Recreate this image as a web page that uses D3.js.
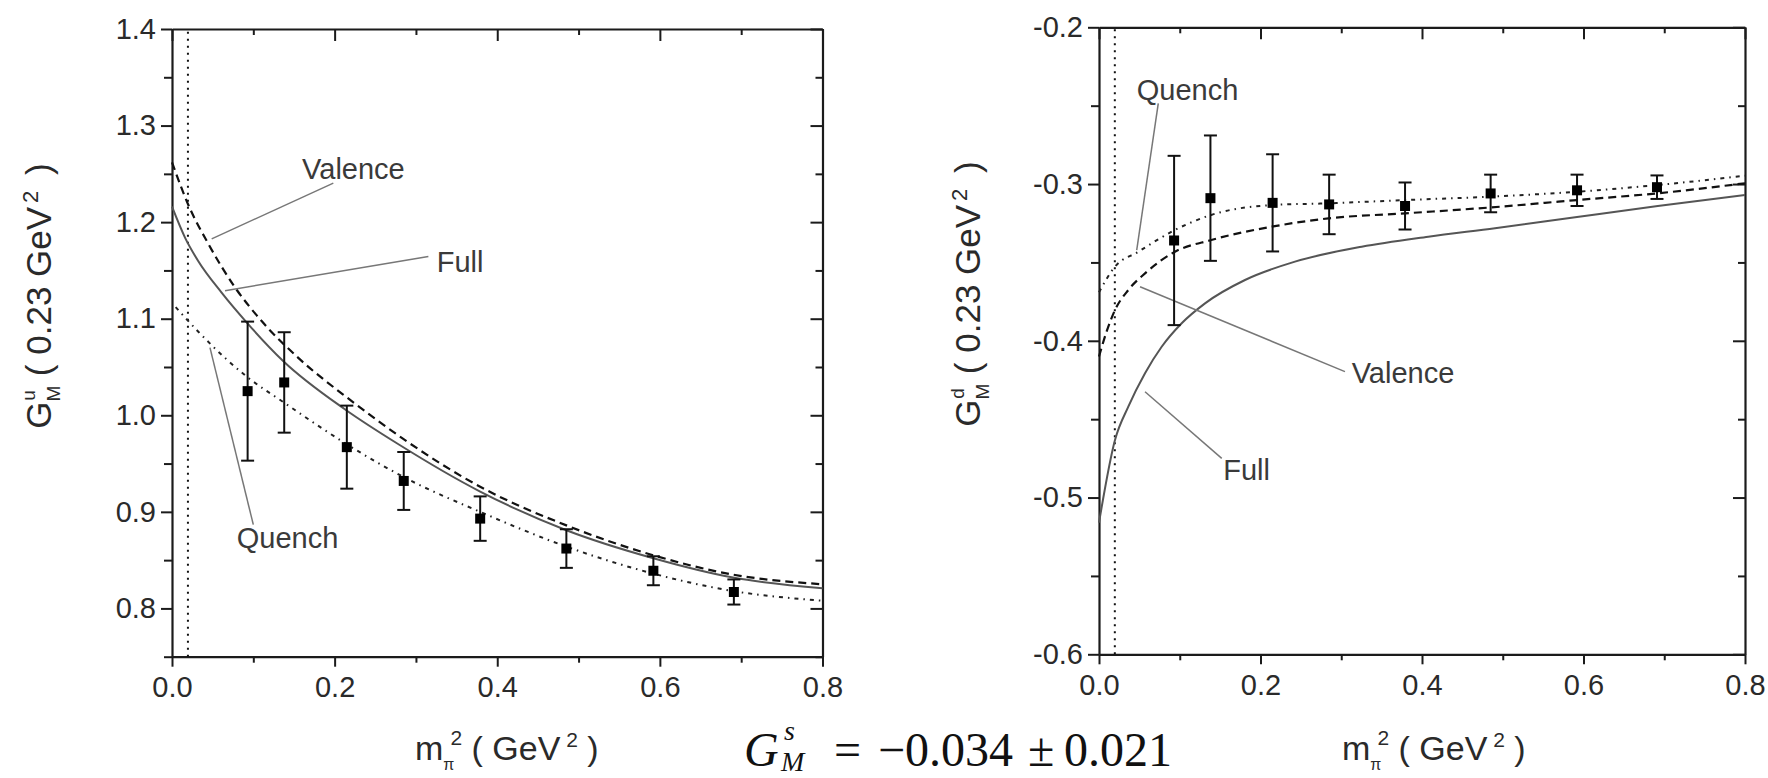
<!DOCTYPE html>
<html><head><meta charset="utf-8">
<script src="https://cdn.jsdelivr.net/npm/d3@7"></script>
<style>body{margin:0;background:#fff}svg{display:block}</style>
</head><body><svg id="c" width="1768" height="778"></svg>
<script>
// ---------- data ----------
const mpi2 = [0.093, 0.138, 0.215, 0.285, 0.379, 0.485, 0.592, 0.691];
const gmuValues = [1.025, 1.034, 0.967, 0.932, 0.893, 0.862, 0.839, 0.817];
const gmuErrors = [0.072, 0.052, 0.043, 0.030, 0.023, 0.020, 0.015, 0.013];
const gmdValues = [-0.336, -0.309, -0.312, -0.313, -0.314, -0.306, -0.304, -0.302];
const gmdErrors = [0.054, 0.040, 0.031, 0.019, 0.015, 0.012, 0.010, 0.0075];

const uFullX = [0, 0.016, 0.032, 0.061, 0.092, 0.137, 0.213, 0.2785, 0.379, 0.485, 0.592, 0.69, 0.8];
const uFullY = [1.216, 1.184, 1.160, 1.127, 1.096, 1.056, 1.006, 0.970, 0.921, 0.881, 0.852, 0.832, 0.821];
const uValX = [0, 0.02, 0.0447, 0.0775, 0.11, 0.155, 0.221, 0.2826, 0.379, 0.485, 0.592, 0.69, 0.8];
const uValY = [1.262, 1.218, 1.1775, 1.1324, 1.0978, 1.0597, 1.0147, 0.9766, 0.926, 0.886, 0.855, 0.835, 0.825];
const uQueX = [0.0045, 0.033, 0.067, 0.092, 0.138, 0.215, 0.285, 0.379, 0.485, 0.592, 0.69, 0.8];
const uQueY = [1.112, 1.086, 1.058, 1.040, 1.013, 0.970, 0.936, 0.900, 0.864, 0.836, 0.818, 0.808];

const dFullX = [0, 0.0198, 0.0363, 0.057, 0.0776, 0.1024, 0.1313, 0.1808, 0.2427, 0.3253, 0.4078, 0.4904, 0.592, 0.692, 0.8];
const dFullY = [-0.516, -0.4633, -0.442, -0.4207, -0.4038, -0.3888, -0.3761, -0.3612, -0.3495, -0.340, -0.3336, -0.3282, -0.321, -0.314, -0.307];
const dValX = [0, 0.0095, 0.0198, 0.0363, 0.057, 0.094, 0.139, 0.214, 0.284, 0.379, 0.483, 0.592, 0.692, 0.8];
const dValY = [-0.410, -0.394, -0.3804, -0.3676, -0.357, -0.3432, -0.3357, -0.3272, -0.3219, -0.3187, -0.315, -0.3102, -0.3059, -0.2995];
const dQueX = [0, 0.0198, 0.0487, 0.094, 0.139, 0.214, 0.284, 0.379, 0.482, 0.592, 0.692, 0.8];
const dQueY = [-0.369, -0.3527, -0.3432, -0.3293, -0.3197, -0.3134, -0.3123, -0.3102, -0.3081, -0.3049, -0.3006, -0.2947];

const physicalMpi2 = 0.0196;

const xTicks = [0, 0.2, 0.4, 0.6, 0.8];
const xTickLabels = ["0.0", "0.2", "0.4", "0.6", "0.8"];
const xMinorTicks = [0.1, 0.3, 0.5, 0.7];
const uTicks = [0.8, 0.9, 1.0, 1.1, 1.2, 1.3, 1.4];
const uTickLabels = ["0.8", "0.9", "1.0", "1.1", "1.2", "1.3", "1.4"];
const uMinorTicks = [0.75, 0.85, 0.95, 1.05, 1.15, 1.25, 1.35];
const dTicks = [-0.6, -0.5, -0.4, -0.3, -0.2];
const dTickLabels = ["-0.6", "-0.5", "-0.4", "-0.3", "-0.2"];
const dMinorTicks = [-0.55, -0.45, -0.35, -0.25];

const uLabels = ["Valence", "Full", "Quench"];
const uLabelPos = [[0.160, 1.245], [0.3256, 1.148], [0.0796, 0.8624]];
const uLeaders = [[[0.0488, 1.1827], [0.1984, 1.2404]], [[0.0652, 1.129], [0.3153, 1.1643]], [[0.0467, 1.070], [0.100, 0.8867]]];
const dLabels = ["Quench", "Valence", "Full"];
const dLabelPos = [[0.0467, -0.2464], [0.3129, -0.4271], [0.1539, -0.4888]];
const dLeaders = [[[0.0734, -0.2485], [0.0467, -0.3421]], [[0.0508, -0.3655], [0.3046, -0.4197]], [[0.057, -0.4325], [0.152, -0.475]]];

// ---------- drawing ----------
const svg = d3.select("#c");
svg.append("rect").attr("width", 1768).attr("height", 778).attr("fill", "#fff");
const SANS = "'Liberation Sans', Arial, sans-serif";
const AX = "#1b1b1b";

function zip(a, b) { return a.map((v, i) => [v, b[i]]); }

function panel(cfg) {
  const g = svg.append("g");
  const x = d3.scaleLinear().domain([0, 0.8]).range([cfg.x0, cfg.x1]);
  const y = d3.scaleLinear().domain(cfg.yDom).range([cfg.y0, cfg.y1]);

  function styleAxis(sel, keepDomain) {
    sel.selectAll("path.domain").attr("stroke", AX).attr("stroke-width", 2.2);
    if (!keepDomain) sel.selectAll("path.domain").remove();
    sel.selectAll(".tick line").attr("stroke", AX).attr("stroke-width", 2);
    sel.selectAll(".tick text").attr("font-family", SANS).attr("font-size", 29).attr("fill", "#2a2a2a");
  }
  g.append("g").attr("transform", `translate(0,${cfg.y0})`)
    .call(d3.axisBottom(x).tickValues(xTicks).tickFormat((d, i) => xTickLabels[i]).tickSize(10).tickPadding(10).tickSizeOuter(0))
    .call(s => styleAxis(s, true));
  g.append("g").attr("transform", `translate(0,${cfg.y0})`)
    .call(d3.axisBottom(x).tickValues(xMinorTicks).tickFormat("").tickSize(6).tickSizeOuter(0))
    .call(s => styleAxis(s, false));
  g.append("g").attr("transform", `translate(0,${cfg.y1})`)
    .call(d3.axisTop(x).tickValues(xTicks).tickFormat("").tickSize(-12).tickSizeOuter(0))
    .call(s => styleAxis(s, true));
  g.append("g").attr("transform", `translate(0,${cfg.y1})`)
    .call(d3.axisTop(x).tickValues(xMinorTicks).tickFormat("").tickSize(-6).tickSizeOuter(0))
    .call(s => styleAxis(s, false));
  g.append("g").attr("transform", `translate(${cfg.x0},0)`)
    .call(d3.axisLeft(y).tickValues(cfg.ticks).tickFormat((d, i) => cfg.tickLabels[i]).tickSize(11).tickPadding(5).tickSizeOuter(0))
    .call(s => styleAxis(s, true));
  g.append("g").attr("transform", `translate(${cfg.x0},0)`)
    .call(d3.axisLeft(y).tickValues(cfg.minor).tickFormat("").tickSize(8).tickSizeOuter(0))
    .call(s => styleAxis(s, false));
  g.append("g").attr("transform", `translate(${cfg.x1},0)`)
    .call(d3.axisRight(y).tickValues(cfg.ticks).tickFormat("").tickSize(-12).tickSizeOuter(0))
    .call(s => styleAxis(s, true));
  g.append("g").attr("transform", `translate(${cfg.x1},0)`)
    .call(d3.axisRight(y).tickValues(cfg.minor).tickFormat("").tickSize(-7).tickSizeOuter(0))
    .call(s => styleAxis(s, false));

  g.append("line").attr("x1", x(physicalMpi2)).attr("x2", x(physicalMpi2))
    .attr("y1", y(cfg.yDom[0])).attr("y2", y(cfg.yDom[1]))
    .attr("stroke", "#111").attr("stroke-width", 2).attr("stroke-dasharray", "2,5");

  const line = d3.line().x(d => x(d[0])).y(d => y(d[1])).curve(d3.curveMonotoneX);
  g.append("path").datum(zip(cfg.fullX, cfg.fullY)).attr("d", line)
    .attr("fill", "none").attr("stroke", "#555").attr("stroke-width", 2);
  g.append("path").datum(zip(cfg.valX, cfg.valY)).attr("d", line)
    .attr("fill", "none").attr("stroke", "#111").attr("stroke-width", 2.2).attr("stroke-dasharray", "8,5");
  g.append("path").datum(zip(cfg.queX, cfg.queY)).attr("d", line)
    .attr("fill", "none").attr("stroke", "#222").attr("stroke-width", 2).attr("stroke-dasharray", "4,5,1.5,5");

  cfg.leaders.forEach(l => {
    g.append("line").attr("x1", x(l[0][0])).attr("y1", y(l[0][1]))
      .attr("x2", x(l[1][0])).attr("y2", y(l[1][1]))
      .attr("stroke", "#777").attr("stroke-width", 1.5);
  });
  cfg.labels.forEach((t, i) => {
    g.append("text").attr("x", x(cfg.labelPos[i][0])).attr("y", y(cfg.labelPos[i][1]))
      .attr("font-family", SANS).attr("font-size", 29).attr("fill", "#3a3a3a").text(t);
  });

  const pts = mpi2.map((m, i) => ({ m, v: cfg.vals[i], e: cfg.errs[i] }));
  const eb = g.append("g").attr("stroke", "#111").attr("stroke-width", 2);
  pts.forEach(p => {
    eb.append("line").attr("x1", x(p.m)).attr("x2", x(p.m)).attr("y1", y(p.v - p.e)).attr("y2", y(p.v + p.e));
    eb.append("line").attr("x1", x(p.m) - 6.5).attr("x2", x(p.m) + 6.5).attr("y1", y(p.v - p.e)).attr("y2", y(p.v - p.e));
    eb.append("line").attr("x1", x(p.m) - 6.5).attr("x2", x(p.m) + 6.5).attr("y1", y(p.v + p.e)).attr("y2", y(p.v + p.e));
  });
  g.selectAll("rect.pt").data(pts).enter().append("rect")
    .attr("x", d => x(d.m) - 5).attr("y", d => y(d.v) - 5).attr("width", 10).attr("height", 10).attr("fill", "#000");

  // y title (rotated)
  const yt = g.append("text").attr("transform", `translate(${cfg.ytx},${cfg.yty}) rotate(-90)`)
    .attr("text-anchor", "middle").attr("font-family", SANS).attr("font-size", 35).attr("fill", "#2a2a2a");
  yt.append("tspan").text("G");
  yt.append("tspan").attr("font-size", 19).attr("dy", 9).text("M");
  yt.append("tspan").attr("font-size", 19).attr("dx", -15).attr("dy", -25).text(cfg.flavour);
  yt.append("tspan").attr("dy", 16).attr("dx", 14).text("( 0.23  GeV");
  yt.append("tspan").attr("font-size", 22).attr("dy", -13).attr("dx", 4).text("2");
  yt.append("tspan").attr("dy", 13).attr("dx", 6).text(" )");

  // x title
  const xt = g.append("text").attr("x", cfg.xtx).attr("y", 760)
    .attr("font-family", SANS).attr("font-size", 34).attr("fill", "#2a2a2a");
  xt.append("tspan").text("m");
  xt.append("tspan").attr("font-size", 16).attr("dy", 10).text("π");
  xt.append("tspan").attr("font-size", 21).attr("dx", -4).attr("dy", -25).text("2");
  xt.append("tspan").attr("dy", 15).text(" ( GeV");
  xt.append("tspan").attr("font-size", 21).attr("dy", -13).text(" 2");
  xt.append("tspan").attr("dy", 13).text(" )");
}

panel({
  x0: 172, x1: 822.5, y0: 656.7, y1: 29, yDom: [0.75, 1.4],
  ticks: uTicks, tickLabels: uTickLabels, minor: uMinorTicks,
  fullX: uFullX, fullY: uFullY, valX: uValX, valY: uValY, queX: uQueX, queY: uQueY,
  vals: gmuValues, errs: gmuErrors,
  labels: uLabels, labelPos: uLabelPos, leaders: uLeaders,
  flavour: "u", ytx: 51, yty: 296, xtx: 415
});
panel({
  x0: 1099, x1: 1745, y0: 654.3, y1: 27.3, yDom: [-0.6, -0.2],
  ticks: dTicks, tickLabels: dTickLabels, minor: dMinorTicks,
  fullX: dFullX, fullY: dFullY, valX: dValX, valY: dValY, queX: dQueX, queY: dQueY,
  vals: gmdValues, errs: gmdErrors,
  labels: dLabels, labelPos: dLabelPos, leaders: dLeaders,
  flavour: "d", ytx: 980, yty: 294, xtx: 1342
});

// strange magnetic form factor result
const SERIF = "'Liberation Serif', 'Times New Roman', serif";
const fg = svg.append("g").attr("font-family", SERIF).attr("fill", "#111");
fg.append("text").attr("x", 744).attr("y", 766).attr("font-size", 48).attr("font-style", "italic").text("G");
fg.append("text").attr("x", 781).attr("y", 771).attr("font-size", 28).attr("font-style", "italic").text("M");
fg.append("text").attr("x", 784).attr("y", 740).attr("font-size", 28).attr("font-style", "italic").text("s");
fg.append("text").attr("x", 834).attr("y", 766).attr("font-size", 48).text("=");
fg.append("text").attr("x", 878).attr("y", 766).attr("font-size", 48).text("−0.034");
fg.append("text").attr("x", 1028).attr("y", 766).attr("font-size", 48).text("±");
fg.append("text").attr("x", 1064).attr("y", 766).attr("font-size", 48).text("0.021");
</script>
</body></html>
